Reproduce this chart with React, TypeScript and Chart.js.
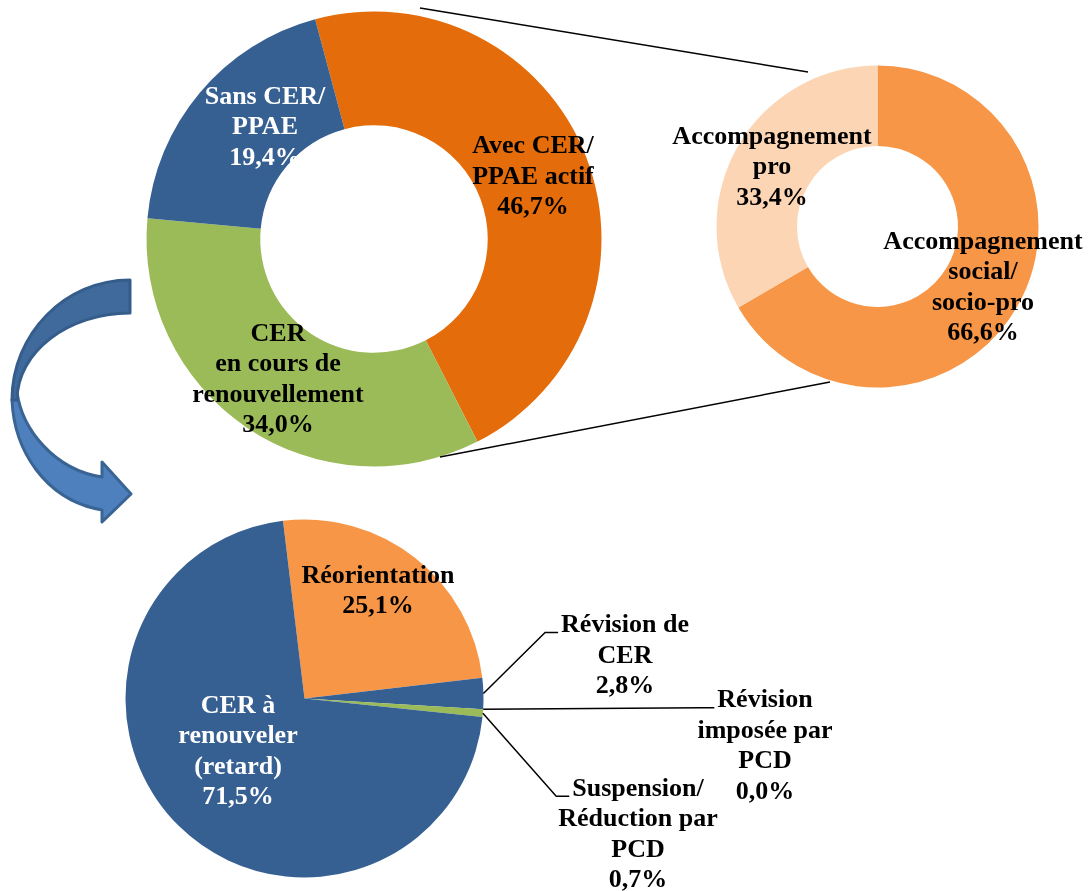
import React, { useEffect, useRef } from "react";
import { Chart, registerables } from "chart.js";

Chart.register(...registerables);

const W = 1090;
const H = 891;

// ---- Top-left doughnut: CER / PPAE status ----
const statusCategories = ["Avec CER/\nPPAE actif", "CER\nen cours de\nrenouvellement", "Sans CER/\nPPAE"];
const statusValues = [46.7, 34.0, 19.4];
const statusColors = ["#E46C0A", "#9BBB59", "#376092"];
const statusTextColors = ["#000000", "#000000", "#FFFFFF"];

// ---- Top-right doughnut: type of accompaniment ----
const accompCategories = ["Accompagnement\nsocial/\nsocio-pro", "Accompagnement\npro"];
const accompValues = [66.6, 33.4];
const accompColors = ["#F79646", "#FCD5B5"];
const accompTextColors = ["#000000", "#000000"];

// ---- Bottom pie: CER being renewed ----
const renewCategories = [
  "Réorientation",
  "Révision de\nCER",
  "Révision\nimposée par\nPCD",
  "Suspension/\nRéduction par\nPCD",
  "CER à\nrenouveler\n(retard)",
];
const renewValues = [25.1, 2.8, 0.0, 0.7, 71.5];
const renewColors = ["#F79646", "#376092", "#4BACC6", "#9BBB59", "#376092"];
const renewTextColors = ["#000000", "#000000", "#000000", "#000000", "#FFFFFF"];

// label placement (relative to each pie centre) – layout only
const statusLabelOffsets = [[159, -62], [-96, 141], [-109, -111.5]];
const accompLabelOffsets = [[105.5, 61.5], [-105.5, -59]];
const renewLabelOffsets = [[73.5, -107], [320.5, -42.5], [460.5, 48], [333.5, 136.5], [-66.5, 53.5]];
const renewLeaders = [false, true, true, true, false];

const FONT = 'bold 26px "Liberation Serif", "Times New Roman", serif';
const LINE_H = 30.5;

const fmt = (v: number) => v.toFixed(1).replace(".", ",") + "%";

function makeLabelPlugin(offsets: number[][], textColors: string[], leaders?: boolean[]) {
  return {
    id: "sliceLabels",
    afterDatasetsDraw(chart: any) {
      const meta = chart.getDatasetMeta(0);
      const ctx = chart.ctx as CanvasRenderingContext2D;
      const ds = chart.data.datasets[0];
      const labels = chart.data.labels as string[];
      ctx.save();
      ctx.font = FONT;
      ctx.textAlign = "center";
      ctx.textBaseline = "middle";
      meta.data.forEach((arc: any, i: number) => {
        const p = arc.getProps(["x", "y", "startAngle", "endAngle", "outerRadius"], true);
        const lines = [...String(labels[i]).split("\n"), fmt(ds.data[i])];
        const cx = p.x + offsets[i][0];
        const cy = p.y + offsets[i][1];
        const top = cy - ((lines.length - 1) * LINE_H) / 2;
        if (leaders && leaders[i]) {
          const mid = (p.startAngle + p.endAngle) / 2;
          const sx = p.x + Math.cos(mid) * p.outerRadius;
          const sy = p.y + Math.sin(mid) * p.outerRadius;
          const w0 = ctx.measureText(lines[0]).width;
          const ex = cx - w0 / 2 - 3;
          const ey = top + 7;
          ctx.strokeStyle = "#000000";
          ctx.lineWidth = 1.5;
          ctx.beginPath();
          ctx.moveTo(sx, sy);
          ctx.lineTo(ex - 13, ey);
          ctx.lineTo(ex, ey);
          ctx.stroke();
        }
        ctx.fillStyle = textColors[i];
        lines.forEach((t, k) => ctx.fillText(t, cx, top + k * LINE_H));
      });
      ctx.restore();
    },
  };
}

function makeConfig(
  type: "doughnut" | "pie",
  labels: string[],
  values: number[],
  colors: string[],
  rotation: number,
  radius: number,
  cutout: string,
  padding: { left: number; right: number; top: number; bottom: number },
  plugin: any
): any {
  return {
    type,
    data: {
      labels,
      datasets: [
        {
          data: values,
          backgroundColor: colors,
          borderWidth: 0,
          hoverOffset: 0,
          offset: 0,
        },
      ],
    },
    options: {
      responsive: false,
      animation: false,
      events: [],
      rotation,
      radius,
      cutout,
      layout: { padding },
      plugins: { legend: { display: false }, tooltip: { enabled: false } },
    },
    plugins: [plugin],
  };
}

function PieCanvas({ config }: { config: any }) {
  const ref = useRef<HTMLCanvasElement | null>(null);
  useEffect(() => {
    if (!ref.current) return;
    const chart = new Chart(ref.current, config);
    return () => chart.destroy();
  }, [config]);
  return (
    <canvas
      ref={ref}
      width={W}
      height={H}
      style={{ position: "absolute", left: 0, top: 0, width: W, height: H }}
    />
  );
}

const statusConfig = makeConfig(
  "doughnut",
  statusCategories,
  statusValues,
  statusColors,
  -15,
  227.5,
  "50%",
  { left: 0, right: W - 748, top: 0, bottom: H - 478 },
  makeLabelPlugin(statusLabelOffsets, statusTextColors)
);

const accompConfig = makeConfig(
  "doughnut",
  accompCategories,
  accompValues,
  accompColors,
  0,
  161,
  "50%",
  { left: 665, right: 0, top: 0, bottom: 438 },
  makeLabelPlugin(accompLabelOffsets, accompTextColors)
);

const renewConfig = makeConfig(
  "pie",
  renewCategories,
  renewValues,
  renewColors,
  -6.9,
  179,
  "0%",
  { left: 0, right: 481, top: 506, bottom: 0 },
  makeLabelPlugin(renewLabelOffsets, renewTextColors, renewLeaders)
);

export default function App() {
  return (
    <div
      style={{
        position: "absolute",
        left: 0,
        top: 0,
        width: W,
        height: H,
        background: "#FFFFFF",
        overflow: "hidden",
      }}
    >
      <PieCanvas config={statusConfig} />
      <PieCanvas config={accompConfig} />
      <PieCanvas config={renewConfig} />
      <svg
        width={W}
        height={H}
        style={{ position: "absolute", left: 0, top: 0, pointerEvents: "none" }}
      >
        {/* zoom connector lines */}
        <line x1={420} y1={8} x2={808} y2={72} stroke="#000" strokeWidth={1.5} />
        <line x1={440} y1={457} x2={830} y2={382} stroke="#000" strokeWidth={1.5} />
        {/* curved arrow: lower (front) band with head */}
        <path
          d="M17,392 C22,430 55,470 102,477 L102,462 L131,494 L102,522 L102,510 C45,500 14,450 12,400 Z"
          fill="#4E80BE"
          stroke="#3A6493"
          strokeWidth={3}
          strokeLinejoin="round"
        />
        {/* upper (back) band */}
        <path
          d="M130,280 C65,280 12,334 12,400 L17,400 C17,352 68,313 130,313 Z"
          fill="#3F6A9B"
          stroke="#355D8C"
          strokeWidth={3}
          strokeLinejoin="round"
        />
      </svg>
    </div>
  );
}
